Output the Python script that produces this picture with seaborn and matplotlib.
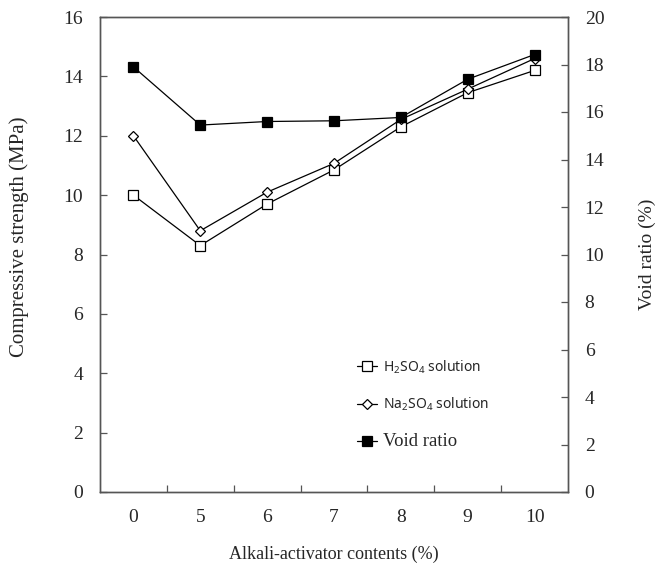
import matplotlib
matplotlib.use("Agg")
import matplotlib.pyplot as plt
import seaborn as sns
import pandas as pd
from matplotlib.ticker import FixedLocator, NullFormatter

# Alkali-activator content categories (%)
contents = ["0", "5", "6", "7", "8", "9", "10"]
# Compressive strength after immersion (MPa)
strength_h2so4 = [10.0, 8.3, 9.7, 10.85, 12.3, 13.45, 14.2]
strength_na2so4 = [12.0, 8.8, 10.1, 11.07, 12.55, 13.57, 14.6]
# Void ratio (%)
void_ratio = [17.9, 15.45, 15.6, 15.63, 15.77, 17.38, 18.42]

sns.set_theme(style="white")
plt.rcParams["font.family"] = ["Liberation Serif", "DejaVu Serif"]
plt.rcParams["mathtext.fontset"] = "custom"
plt.rcParams["mathtext.rm"] = "Noto Sans"
plt.rcParams["mathtext.it"] = "Noto Sans:italic"

df = pd.DataFrame({
    "content": contents,
    "h2so4": strength_h2so4,
    "na2so4": strength_na2so4,
    "void": void_ratio,
})

fig = plt.figure(figsize=(6.64, 5.72), dpi=100)
ax = fig.add_axes([100 / 664, 80 / 572, 468 / 664, 475 / 572])
ax2 = ax.twinx()

line_kw = dict(color="black", linewidth=0.9, markeredgecolor="black",
               markeredgewidth=0.9)
sns.lineplot(data=df, x="content", y="h2so4", ax=ax, marker="s",
             markersize=7, markerfacecolor="white",
             label=r"H$_2$SO$_4$ solution", **line_kw)
sns.lineplot(data=df, x="content", y="na2so4", ax=ax, marker="D",
             markersize=5.5, markerfacecolor="white",
             label=r"Na$_2$SO$_4$ solution", **line_kw)
sns.lineplot(data=df, x="content", y="void", ax=ax2, marker="s",
             markersize=7, markerfacecolor="black",
             label="Void ratio", **line_kw)

n = len(contents)
ax.set_xlim(-0.5, n - 0.5)
ax.set_ylim(0, 16)
ax2.set_ylim(0, 20)
ax.set_yticks(range(0, 17, 2))
ax2.set_yticks(range(0, 21, 2))

# category labels at centres, tick marks on the category boundaries
ax.set_xticks(range(n))
ax.set_xticklabels(contents)
ax.xaxis.set_minor_locator(FixedLocator([i + 0.5 for i in range(n - 1)]))
ax.xaxis.set_minor_formatter(NullFormatter())
ax.tick_params(axis="x", which="major", length=0, pad=12, labelsize=14)
ax.tick_params(axis="x", which="minor", direction="in", length=5,
               width=0.9, color="#555555", bottom=True)
ax.tick_params(axis="y", direction="in", length=5, width=0.9,
               color="#555555", pad=12, labelsize=14, left=True)
ax2.tick_params(axis="y", direction="in", length=5, width=0.9,
                color="#555555", pad=12, labelsize=14, right=True)

for a in (ax, ax2):
    for sp in a.spines.values():
        sp.set_color("#555555")
        sp.set_linewidth(1.0)

ax.set_xlabel("Alkali-activator contents (%)", fontsize=13)
ax.xaxis.set_label_coords(0.5, -0.113)
ax.set_ylabel("Compressive strength (MPa)", fontsize=15)
ax.yaxis.set_label_coords(-0.152, 0.537)
ax2.set_ylabel("Void ratio (%)", fontsize=14)
ax2.yaxis.set_label_coords(1.15, 0.5)

# combined legend without frame
h1, l1 = ax.get_legend_handles_labels()
h2, l2 = ax2.get_legend_handles_labels()
ax.get_legend().remove()
ax2.get_legend().remove()
leg = ax2.legend(h1 + h2, l1 + l2, loc="upper left",
                 bbox_to_anchor=(343 / 664, 1 - 345 / 572),
                 bbox_transform=fig.transFigure, frameon=False,
                 handlelength=1.3, handletextpad=0.4, labelspacing=1.3,
                 fontsize=11)
for txt in leg.get_texts()[:2]:
    txt.set_fontfamily(["Noto Sans", "DejaVu Sans"])
    txt.set_fontsize(10)
leg.get_texts()[2].set_fontsize(13.5)

fig.savefig("out.png", dpi=100)
